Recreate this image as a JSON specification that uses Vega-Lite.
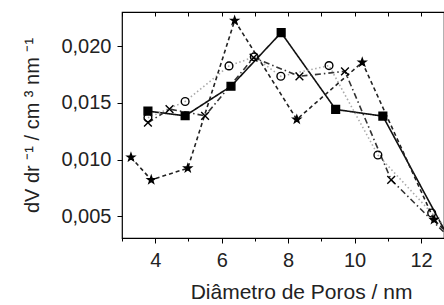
{
  "$schema": "https://vega.github.io/schema/vega-lite/v6.json",
  "width": 322,
  "height": 226,
  "autosize": {"type": "none"},
  "padding": {"left": 122, "top": 12, "right": 0, "bottom": 67},
  "background": "white",
  "config": {
    "view": {"stroke": "black", "strokeWidth": 1.2},
    "font": "Liberation Sans",
    "axis": {"grid": false, "domainColor": "black", "tickColor": "black", "labelColor": "#222", "titleColor": "#222", "labelFont": "Liberation Sans", "titleFont": "Liberation Sans", "titleFontWeight": "normal"}
  },
  "data": {"values": [
    {"s": "A", "d": 3.78, "v": 0.01427},
    {"s": "A", "d": 4.90, "v": 0.01386},
    {"s": "A", "d": 6.28, "v": 0.01646},
    {"s": "A", "d": 7.79, "v": 0.02118},
    {"s": "A", "d": 9.43, "v": 0.01442},
    {"s": "A", "d": 10.85, "v": 0.01383},
    {"s": "A", "d": 13.0, "v": 0.0022},
    {"s": "B", "d": 3.78, "v": 0.01368},
    {"s": "B", "d": 4.90, "v": 0.01512},
    {"s": "B", "d": 6.22, "v": 0.01825},
    {"s": "B", "d": 6.98, "v": 0.01905},
    {"s": "B", "d": 7.78, "v": 0.01734},
    {"s": "B", "d": 9.23, "v": 0.01828},
    {"s": "B", "d": 10.70, "v": 0.01041},
    {"s": "B", "d": 12.32, "v": 0.0053},
    {"s": "B", "d": 13.4, "v": 0.0022},
    {"s": "C", "d": 3.78, "v": 0.01325},
    {"s": "C", "d": 4.43, "v": 0.01445},
    {"s": "C", "d": 5.50, "v": 0.01386},
    {"s": "C", "d": 6.96, "v": 0.01898},
    {"s": "C", "d": 8.34, "v": 0.01734},
    {"s": "C", "d": 9.71, "v": 0.01778},
    {"s": "C", "d": 11.10, "v": 0.00822},
    {"s": "C", "d": 12.9, "v": 0.0030},
    {"s": "D", "d": 3.27, "v": 0.01021},
    {"s": "D", "d": 3.88, "v": 0.00822},
    {"s": "D", "d": 4.98, "v": 0.00925},
    {"s": "D", "d": 6.39, "v": 0.02225},
    {"s": "D", "d": 8.26, "v": 0.01354},
    {"s": "D", "d": 10.23, "v": 0.01857},
    {"s": "D", "d": 12.39, "v": 0.00471},
    {"s": "D", "d": 13.5, "v": 0.0015}
  ]},
  "resolve": {"axis": {"x": "independent"}},
  "layer": [
    {
      "mark": {"type": "line", "clip": true, "strokeWidth": 1.6},
      "encoding": {
        "x": {"field": "d", "type": "quantitative", "scale": {"domain": [3, 12.69], "nice": false, "zero": false},
          "axis": {"title": "Diâmetro de Poros / nm", "titleFontSize": 21, "titleX": 179, "titlePadding": 11, "labelFontSize": 20, "labelPadding": 7, "values": [3,4,5,6,7,8,9,10,11,12],
            "labelExpr": "datum.value % 2 == 0 ? datum.label : ''",
            "tickSize": {"condition": {"test": "datum.value % 2 == 0", "value": 5}, "value": 3}, "domain": false}},
        "y": {"field": "v", "type": "quantitative", "scale": {"domain": [0.0031, 0.023], "nice": false, "zero": false},
          "axis": {"title": "dV dr ⁻¹ / cm ³ nm ⁻¹", "titleFontSize": 20, "titlePadding": 18, "labelFontSize": 20, "labelPadding": 6,
            "values": [0.005, 0.0075, 0.01, 0.0125, 0.015, 0.0175, 0.02, 0.0225],
            "labelExpr": "abs(round(datum.value * 10000) % 50) == 0 ? replace(format(datum.value, '.3f'), '.', ',') : ''",
            "tickSize": {"condition": {"test": "abs(round(datum.value * 10000) % 50) == 0", "value": 5}, "value": 3}, "domain": false}},
        "detail": {"field": "s"},
        "color": {"field": "s", "type": "nominal", "legend": null, "scale": {"domain": ["A","B","C","D"], "range": ["#111","#aaa","#333","#222"]}},
        "strokeDash": {"field": "s", "type": "nominal", "legend": null, "scale": {"domain": ["A","B","C","D"], "range": [[1,0],[1.5,2.5],[6,3,1.5,3],[4,3]]}}
      }
    },
    {
      "mark": {"type": "point", "clip": true, "stroke": "black", "strokeWidth": 1.4, "opacity": 1},
      "encoding": {
        "x": {"field": "d", "type": "quantitative", "axis": {"orient": "top", "labels": false, "title": null, "domain": false, "values": [3,4,5,6,7,8,9,10,11,12], "tickSize": -4}},
        "y": {"field": "v", "type": "quantitative"},
        "shape": {"field": "s", "type": "nominal", "legend": null, "scale": {"domain": ["A","B","C","D"], "range": ["square", "circle", "M-1,-1L1,1M-1,1L1,-1", "M0,-1L0.235,-0.324L0.951,-0.309L0.38,0.124L0.588,0.809L0,0.4L-0.588,0.809L-0.38,0.124L-0.951,-0.309L-0.235,-0.324Z"]}},
        "fill": {"field": "s", "type": "nominal", "legend": null, "scale": {"domain": ["A","B","C","D"], "range": ["black", "transparent", "transparent", "black"]}},
        "size": {"field": "s", "type": "nominal", "legend": null, "scale": {"domain": ["A","B","C","D"], "range": [60, 60, 75, 110]}}
      }
    }
  ]
}
